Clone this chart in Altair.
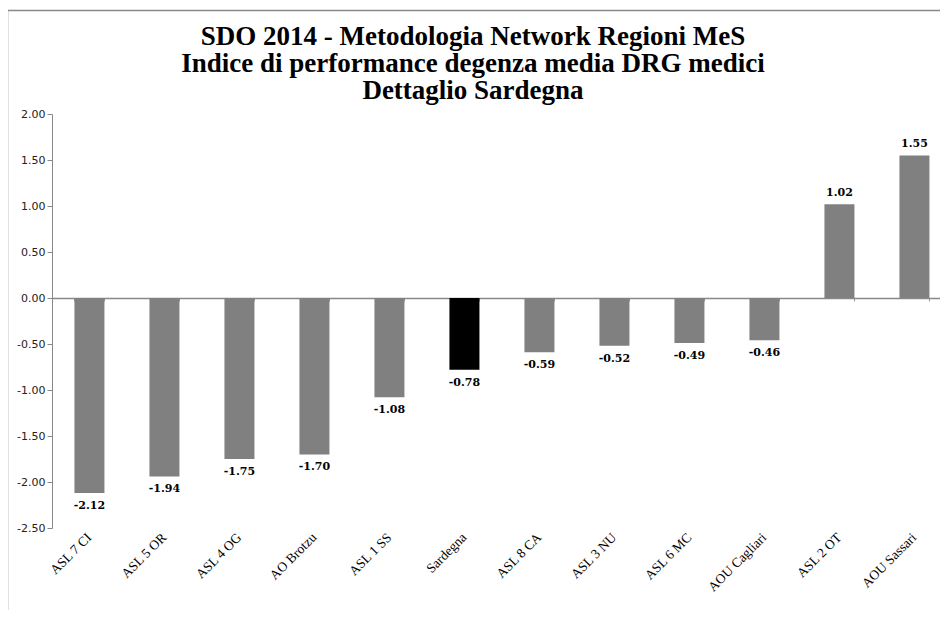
import altair as alt
import pandas as pd

categories = ["ASL 7 CI", "ASL 5 OR", "ASL 4 OG", "AO Brotzu", "ASL 1 SS", "Sardegna",
              "ASL 8 CA", "ASL 3 NU", "ASL 6 MC", "AOU Cagliari", "ASL 2 OT", "AOU Sassari"]
values = [-2.12, -1.94, -1.75, -1.70, -1.08, -0.78, -0.59, -0.52, -0.49, -0.46, 1.02, 1.55]
highlight = "Sardegna"
y_ticks = [-2.5, -2.0, -1.5, -1.0, -0.5, 0.0, 0.5, 1.0, 1.5, 2.0]
title_lines = ["SDO 2014 - Metodologia Network Regioni MeS",
               "Indice di performance degenza media DRG medici",
               "Dettaglio Sardegna"]

df = pd.DataFrame({"cat": categories, "val": values})
one = pd.DataFrame({"k": [0]})

W, H = 888, 414
ymin, ymax = -2.5, 2.0
zero_offset = -H * (0 - ymin) / (ymax - ymin)

x_scale = alt.Scale(domain=categories, paddingInner=0.6, paddingOuter=0.22, align=0.68)
y_scale = alt.Scale(domain=[ymin, ymax], nice=False, zero=True)

y_enc = alt.Y("val:Q", scale=y_scale,
              axis=alt.Axis(values=y_ticks, format=".2f", title=None, grid=False,
                            labelExpr="replace(datum.label, '\u2212', '-')",
                            domainColor="#888888", tickColor="#888888", tickSize=5,
                            labelFont="DejaVu Sans", labelFontSize=11, labelColor="#222222",
                            labelPadding=2))
x_plain = alt.X("cat:N", scale=x_scale, sort=categories, axis=None)

bars = alt.Chart(df).mark_bar().encode(
    x=alt.X("cat:N", scale=x_scale, sort=categories,
            axis=alt.Axis(title=None, domain=False, ticks=False, labelAngle=-45,
                          labelAlign="right", labelBaseline="middle",
                          labelFont="Liberation Serif", labelFontSize=13.5,
                          labelColor="black", labelPadding=7)),
    y=y_enc,
    color=alt.condition(alt.datum.cat == highlight, alt.value("black"), alt.value("#808080")),
)

zero_axis = alt.Chart(df).mark_tick(opacity=0).encode(
    x=alt.X("cat:N", scale=x_scale, sort=categories,
            axis=alt.Axis(title=None, labels=False, domain=True, domainColor="#888888",
                          domainWidth=1.5, ticks=True, tickColor="#999999", tickSize=3,
                          tickBand="extent", orient="bottom", offset=zero_offset)),
    y=y_enc,
)

lab_style = dict(font="DejaVu Serif", fontWeight="bold", fontSize=11, color="black",
                 baseline="middle")

labels_base = alt.Chart(df).transform_calculate(
    lab="replace(format(datum.val, '.2f'), '\u2212', '-')")

neg_labels = labels_base.transform_filter("datum.val < 0").mark_text(dy=13, **lab_style).encode(
    x=x_plain, y=y_enc, text="lab:N")
pos_labels = labels_base.transform_filter("datum.val >= 0").mark_text(dy=-11, **lab_style).encode(
    x=x_plain, y=y_enc, text="lab:N")

title = alt.Chart(one).mark_text(font="Liberation Serif", fontSize=27, fontWeight="bold",
                                 color="black", align="center", baseline="middle",
                                 lineHeight=27).encode(
    x=alt.value(421), y=alt.value(-77), text=alt.value(title_lines))

frame_left = alt.Chart(one).mark_rule(color="#888888", strokeWidth=1.5).encode(
    x=alt.value(-44.5), y=alt.value(-103.5), y2=alt.value(H + 90))
frame_top = alt.Chart(one).mark_rule(color="#888888", strokeWidth=1.5).encode(
    x=alt.value(-44.5), x2=alt.value(W + 10), y=alt.value(-103.5))

chart = alt.layer(bars, zero_axis, neg_labels, pos_labels, title, frame_left, frame_top).resolve_axis(
    x="independent"
).properties(
    width=W, height=H,
    autosize=alt.AutoSizeParams(type="none"),
    padding={"left": 44, "top": 106, "right": 0, "bottom": 82},
).configure_view(stroke=None)

chart.save("out.html", embed_options={"renderer": "svg", "actions": False})
